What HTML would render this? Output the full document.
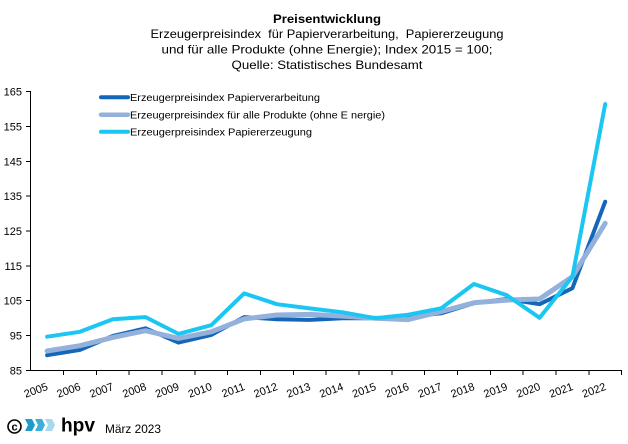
<!DOCTYPE html>
<html>
<head>
<meta charset="utf-8">
<style>
html,body{margin:0;padding:0;background:#fff;}
svg{display:block;}
text{font-family:"Liberation Sans",Arial,sans-serif;fill:#000;}
</style>
</head>
<body>
<svg width="628" height="444" viewBox="0 0 628 444" xmlns="http://www.w3.org/2000/svg">
<rect width="628" height="444" fill="#fff"/>
<!-- Title -->
<text x="327" y="23" font-size="12" font-weight="bold" text-anchor="middle" textLength="108" lengthAdjust="spacingAndGlyphs">Preisentwicklung</text>
<text x="327" y="38" font-size="12" text-anchor="middle" textLength="353" lengthAdjust="spacingAndGlyphs" xml:space="preserve">Erzeugerpreisindex  für Papierverarbeitung,  Papiererzeugung</text>
<text x="327" y="53.5" font-size="12" text-anchor="middle" textLength="331" lengthAdjust="spacingAndGlyphs">und für alle Produkte (ohne Energie); Index 2015 = 100;</text>
<text x="327" y="69" font-size="12" text-anchor="middle" textLength="191" lengthAdjust="spacingAndGlyphs">Quelle: Statistisches Bundesamt</text>

<!-- Axes -->
<g stroke="#000" stroke-width="1" fill="none" shape-rendering="crispEdges">
<line x1="30.5" y1="91" x2="30.5" y2="371"/>
<line x1="30" y1="370.5" x2="622" y2="370.5"/>
<line x1="26" y1="91.5" x2="30.5" y2="91.5"/>
<line x1="26" y1="126.4" x2="30.5" y2="126.4"/>
<line x1="26" y1="161.3" x2="30.5" y2="161.3"/>
<line x1="26" y1="196.1" x2="30.5" y2="196.1"/>
<line x1="26" y1="231" x2="30.5" y2="231"/>
<line x1="26" y1="265.9" x2="30.5" y2="265.9"/>
<line x1="26" y1="300.7" x2="30.5" y2="300.7"/>
<line x1="26" y1="335.6" x2="30.5" y2="335.6"/>
<line x1="26" y1="370.5" x2="30.5" y2="370.5"/>
<line x1="63.5" y1="370.5" x2="63.5" y2="375"/>
<line x1="96.4" y1="370.5" x2="96.4" y2="375"/>
<line x1="129.2" y1="370.5" x2="129.2" y2="375"/>
<line x1="162" y1="370.5" x2="162" y2="375"/>
<line x1="194.9" y1="370.5" x2="194.9" y2="375"/>
<line x1="227.7" y1="370.5" x2="227.7" y2="375"/>
<line x1="260.5" y1="370.5" x2="260.5" y2="375"/>
<line x1="293.3" y1="370.5" x2="293.3" y2="375"/>
<line x1="326.2" y1="370.5" x2="326.2" y2="375"/>
<line x1="359" y1="370.5" x2="359" y2="375"/>
<line x1="391.8" y1="370.5" x2="391.8" y2="375"/>
<line x1="424.7" y1="370.5" x2="424.7" y2="375"/>
<line x1="457.5" y1="370.5" x2="457.5" y2="375"/>
<line x1="490.3" y1="370.5" x2="490.3" y2="375"/>
<line x1="523.2" y1="370.5" x2="523.2" y2="375"/>
<line x1="556" y1="370.5" x2="556" y2="375"/>
<line x1="588.8" y1="370.5" x2="588.8" y2="375"/>
<line x1="621.5" y1="370.5" x2="621.5" y2="375"/>
</g>

<!-- Y labels -->
<g font-size="11" text-anchor="end">
<text x="22" y="95.5">165</text>
<text x="22" y="130.4">155</text>
<text x="22" y="165.3">145</text>
<text x="22" y="200.1">135</text>
<text x="22" y="235">125</text>
<text x="22" y="269.9">115</text>
<text x="22" y="304.7">105</text>
<text x="22" y="339.6">95</text>
<text x="22" y="374.5">85</text>
</g>

<!-- X labels -->
<g font-size="11" text-anchor="end">
<text transform="translate(48.6,389.5) rotate(-20)">2005</text>
<text transform="translate(81.4,389.5) rotate(-20)">2006</text>
<text transform="translate(114.3,389.5) rotate(-20)">2007</text>
<text transform="translate(147.1,389.5) rotate(-20)">2008</text>
<text transform="translate(179.9,389.5) rotate(-20)">2009</text>
<text transform="translate(212.8,389.5) rotate(-20)">2010</text>
<text transform="translate(245.6,389.5) rotate(-20)">2011</text>
<text transform="translate(278.4,389.5) rotate(-20)">2012</text>
<text transform="translate(311.2,389.5) rotate(-20)">2013</text>
<text transform="translate(344.1,389.5) rotate(-20)">2014</text>
<text transform="translate(376.9,389.5) rotate(-20)">2015</text>
<text transform="translate(409.7,389.5) rotate(-20)">2016</text>
<text transform="translate(442.6,389.5) rotate(-20)">2017</text>
<text transform="translate(475.4,389.5) rotate(-20)">2018</text>
<text transform="translate(508.2,389.5) rotate(-20)">2019</text>
<text transform="translate(541.1,389.5) rotate(-20)">2020</text>
<text transform="translate(573.9,389.5) rotate(-20)">2021</text>
<text transform="translate(606.7,389.5) rotate(-20)">2022</text>
</g>

<!-- Series -->
<g fill="none" stroke-linejoin="round" stroke-linecap="round">
<polyline stroke="#1366b8" stroke-width="4" points="47.1,355.2 79.9,349.9 112.8,336.0 145.6,328.3 178.4,342.6 211.3,334.9 244.1,317.1 276.9,319.2 309.7,319.9 342.6,318.2 375.4,318.2 408.2,316.8 441.1,313.3 473.9,303.2 506.7,299.0 539.6,304.2 572.4,288.2 605.2,201.7"/>
<polyline stroke="#93b1db" stroke-width="5" points="47.1,351.0 79.9,345.7 112.8,337.4 145.6,330.7 178.4,338.4 211.3,331.8 244.1,318.9 276.9,315.0 309.7,314.4 342.6,316.1 375.4,318.2 408.2,319.6 441.1,311.6 473.9,302.8 506.7,300.1 539.6,299.0 572.4,276.7 605.2,223.3"/>
<polyline stroke="#1bc6f2" stroke-width="4" points="47.1,336.7 79.9,331.8 112.8,319.2 145.6,317.1 178.4,333.9 211.3,325.2 244.1,293.4 276.9,304.2 309.7,308.4 342.6,312.3 375.4,318.2 408.2,314.7 441.1,308.4 473.9,284.0 506.7,295.2 539.6,317.8 572.4,276.7 605.2,104.1"/>
</g>

<!-- Legend -->
<g stroke-linecap="round">
<line x1="101" y1="97.3" x2="128" y2="97.3" stroke="#1366b8" stroke-width="4"/>
<line x1="101" y1="114.7" x2="128" y2="114.7" stroke="#93b1db" stroke-width="4.5"/>
<line x1="101" y1="131.7" x2="128" y2="131.7" stroke="#1bc6f2" stroke-width="4"/>
</g>
<g font-size="10">
<text x="130" y="101" textLength="190" lengthAdjust="spacingAndGlyphs">Erzeugerpreisindex Papierverarbeitung</text>
<text x="130" y="118.4" textLength="255" lengthAdjust="spacingAndGlyphs">Erzeugerpreisindex für alle Produkte (ohne E nergie)</text>
<text x="130" y="135.4" textLength="182" lengthAdjust="spacingAndGlyphs">Erzeugerpreisindex Papiererzeugung</text>
</g>

<!-- Footer -->
<circle cx="14.5" cy="426.5" r="6.5" fill="none" stroke="#000" stroke-width="1.6"/>
<text x="14.5" y="430.5" font-size="11" font-weight="bold" text-anchor="middle">c</text>
<polygon points="25,419 32,419 35,425 32,431 25,431 28,425" fill="#1e9bc8"/>
<polygon points="35,419 42,419 45,425 42,431 35,431 38,425" fill="#3cb0d9"/>
<polygon points="45,419 52,419 55,425 52,431 45,431 48,425" fill="#a6d9eb"/>
<text x="61" y="431.5" font-size="19" font-weight="bold" textLength="34" lengthAdjust="spacingAndGlyphs">hpv</text>
<text x="105" y="433" font-size="12" textLength="56" lengthAdjust="spacingAndGlyphs">März 2023</text>
</svg>
</body>
</html>
